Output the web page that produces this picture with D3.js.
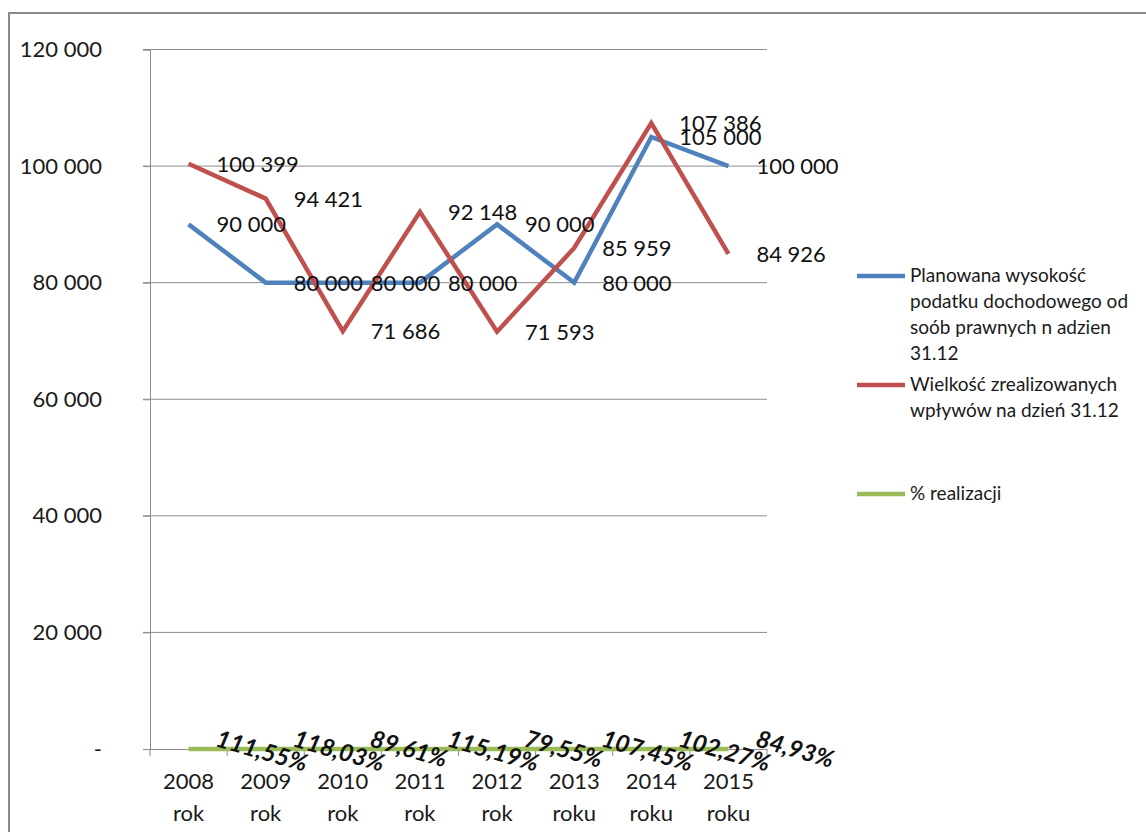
<!DOCTYPE html>
<html>
<head>
<meta charset="utf-8">
<script src="https://cdn.jsdelivr.net/npm/d3@7"></script>
<style>
  html, body { margin: 0; padding: 0; background: #fff; }
  svg { display: block; font-family: Lato, "Open Sans", sans-serif; }
</style>
</head>
<body>
<svg id="chart" width="1146" height="832"></svg>
<script>
// Categories (two-line labels: year / word)
const years = ["2008", "2009", "2010", "2011", "2012", "2013", "2014", "2015"];
const yearWords = ["rok", "rok", "rok", "rok", "rok", "roku", "roku", "roku"];

// Planned corporate income tax, as of 31.12
const planned = [90000, 80000, 80000, 80000, 90000, 80000, 105000, 100000];
// Realized revenue, as of 31.12
const realized = [100399, 94421, 71686, 92148, 71593, 85959, 107386, 84926];
// Realization percentage
const realizationPct = [111.55, 118.03, 89.61, 115.19, 79.55, 107.45, 102.27, 84.93];

// Axis ticks
const yTicks = [0, 20000, 40000, 60000, 80000, 100000, 120000];

const seriesNames = [
  ["Planowana wysokość", "podatku dochodowego od", "soób prawnych n adzien", "31.12"],
  ["Wielkość zrealizowanych", "wpływów na dzień 31.12"],
  ["% realizacji"]
];
const colors = ["#4F81BD", "#C0504D", "#9BBB59"];

const svg = d3.select("#chart");

// Outer chart frame
svg.append("rect")
  .attr("x", 9).attr("y", 13)
  .attr("width", 1160).attr("height", 840)
  .attr("fill", "none").attr("stroke", "#8a8a8a").attr("stroke-width", 2);

const plot = { left: 150, right: 767, top: 49.5, bottom: 749 };

const x = d3.scaleBand().domain(years).range([plot.left, plot.right]);
const y = d3.scaleLinear().domain([0, 120000]).range([plot.bottom, plot.top]);
const cx = i => x(years[i]) + x.bandwidth() / 2;

const fmt = v => v === 0 ? "-" : d3.format(",")(v).replace(/,/g, " ");

// Horizontal gridlines
svg.append("g")
  .selectAll("line")
  .data(yTicks.filter(t => t > 0))
  .join("line")
  .attr("x1", plot.left - 7).attr("x2", plot.right)
  .attr("y1", d => y(d)).attr("y2", d => y(d))
  .attr("stroke", "#8c8c8c").attr("stroke-width", 1);

// Y axis
const yAxis = svg.append("g")
  .attr("transform", `translate(${plot.left},0)`)
  .call(d3.axisLeft(y).tickValues(yTicks).tickSize(7).tickPadding(41).tickFormat(fmt));
yAxis.select(".domain").attr("stroke", "#8c8c8c");
yAxis.selectAll(".tick line").attr("stroke", "#8c8c8c");
yAxis.selectAll(".tick text")
  .attr("fill", "#1a1a1a").style("font-size", "22px").attr("font-family", "Lato");

// X axis
const xAxis = svg.append("g")
  .attr("transform", `translate(0,${plot.bottom})`)
  .call(d3.axisBottom(x).tickSize(0).tickFormat(""));
xAxis.select(".domain").attr("stroke", "#8c8c8c");
// Category boundary ticks
svg.append("g")
  .selectAll("line")
  .data(d3.range(years.length + 1))
  .join("line")
  .attr("x1", i => plot.left + i * x.bandwidth())
  .attr("x2", i => plot.left + i * x.bandwidth())
  .attr("y1", plot.bottom).attr("y2", plot.bottom + 7)
  .attr("stroke", "#8c8c8c");

// Category labels
const catLabels = svg.append("g")
  .selectAll("text")
  .data(years)
  .join("text")
  .attr("text-anchor", "middle")
  .attr("fill", "#1a1a1a")
  .style("font-size", "22px");
catLabels.append("tspan")
  .attr("x", (d, i) => cx(i)).attr("y", 789)
  .text(d => d);
catLabels.append("tspan")
  .attr("x", (d, i) => cx(i)).attr("y", 821)
  .text((d, i) => yearWords[i]);

// Lines
const line = d3.line().x((d, i) => cx(i)).y(d => y(d));
const pctLine = d3.line().x((d, i) => cx(i)).y(d => y(d / 100));

svg.append("path").datum(realizationPct)
  .attr("d", pctLine).attr("fill", "none")
  .attr("stroke", colors[2]).attr("stroke-width", 4.5);
svg.append("path").datum(planned)
  .attr("d", line).attr("fill", "none")
  .attr("stroke", colors[0]).attr("stroke-width", 4.5).attr("stroke-linejoin", "miter");
svg.append("path").datum(realized)
  .attr("d", line).attr("fill", "none")
  .attr("stroke", colors[1]).attr("stroke-width", 4.5).attr("stroke-linejoin", "miter");

// Value labels to the right of each point
function valueLabels(values) {
  svg.append("g")
    .selectAll("text")
    .data(values)
    .join("text")
    .attr("x", (d, i) => cx(i) + 28)
    .attr("y", d => y(d) + 8)
    .attr("fill", "#111")
    .style("font-size", "22px")
    .text(d => fmt(d));
}
valueLabels(planned);
valueLabels(realized);

// Percentage labels, rotated
svg.append("g")
  .selectAll("text")
  .data(realizationPct)
  .join("text")
  .attr("transform", (d, i) => `translate(${cx(i) + 26},${y(d / 100) - 3}) rotate(16)`)
  .attr("text-anchor", "start")
  .attr("fill", "#111")
  .style("font-size", "24px")
  .style("font-weight", "bold")
  .style("font-style", "italic")
  .text(d => d.toFixed(2).replace(".", ",") + "%");

// Legend
const legend = svg.append("g");
const legendRows = [276, 385, 494];
seriesNames.forEach((lines, k) => {
  const ly = legendRows[k];
  legend.append("line")
    .attr("x1", 857).attr("x2", 905)
    .attr("y1", ly).attr("y2", ly)
    .attr("stroke", colors[k]).attr("stroke-width", 4.5);
  const t = legend.append("text")
    .attr("fill", "#1a1a1a")
    .style("font-size", "19px");
  lines.forEach((s, j) => {
    t.append("tspan")
      .attr("x", 910).attr("y", ly + 6 + j * 26)
      .text(s);
  });
});
</script>
</body>
</html>
